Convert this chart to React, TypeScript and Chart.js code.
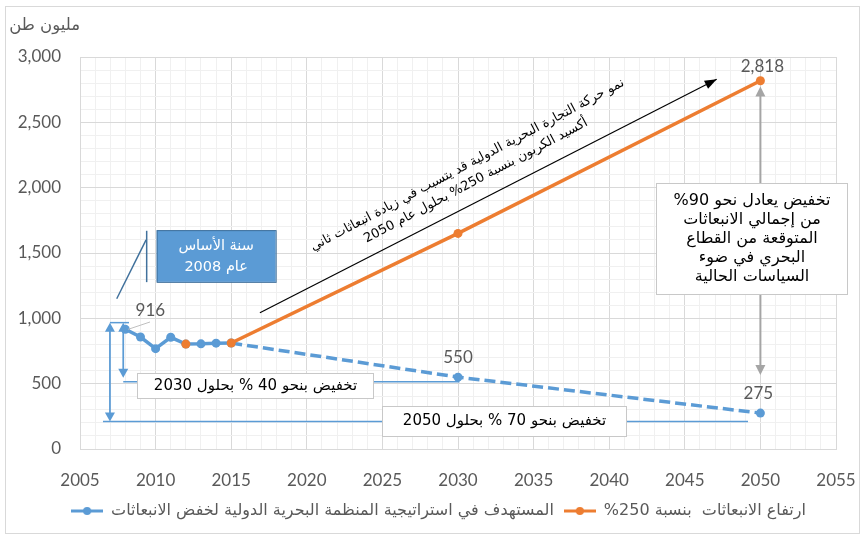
import React, { useEffect, useRef } from "react";
import { Chart, registerables } from "chart.js";

Chart.register(...registerables);

// ---- data ----
const imoYears = [2008, 2009, 2010, 2011, 2012, 2013, 2014, 2015, 2030, 2050];
const imoTarget = [916, 857, 768, 855, 803, 805, 810, 811, 550, 275];
const growthYears = [2012, 2015, 2030, 2050];
const growth250 = [803, 811, 1650, 2818];
const labelledImoYears = [2008, 2030, 2050];
const labelledGrowthYears = [2050];

const imoName = "المستهدف في استراتيجية المنظمة البحرية الدولية لخفض الانبعاثات";
const growthName = "ارتفاع الانبعاثات  بنسبة 250%";
const yTitle = "مليون طن";
const baseYearLines = ["سنة الأساس", "عام 2008"];
const cut2030 = "تخفيض بنحو 40 % بحلول 2030";
const cut2050 = "تخفيض بنحو 70 % بحلول 2050";
const cut90Lines = [
  "تخفيض يعادل نحو 90%",
  "من إجمالي الانبعاثات",
  "المتوقعة من القطاع",
  "البحري في ضوء",
  "السياسات الحالية",
];
const trendLines = [
  "نمو حركة التجارة البحرية الدولية قد يتسبب في زيادة انبعاثات ثاني",
  "أكسيد الكربون بنسبة 250% بحلول عام 2050",
];

// ---- styling ----
const BLUE = "#5b9bd5";
const ORANGE = "#ed7d31";
const DARK_BLUE = "#41719c";
const GREY_TEXT = "#595959";
const NUM_FONT = "Lato, 'DejaVu Sans', sans-serif";
const AR_FONT = "'DejaVu Sans', sans-serif";

// annotation geometry, in axis units (year, million tonnes)
const NOTES = {
  baseBox: { x0: 2010.07, x1: 2017.94, y0: 1675, y1: 1279 },
  baseBar: { x: 2009.41, y0: 1670, y1: 1277 },
  baseDiag: { x0: 2009.37, y0: 1601, x1: 2007.43, y1: 1150 },
  leader: { x0: 2009.63, y0: 972, x1: 2008.19, y1: 916 },
  outerArrow: { x: 2006.98, top: 967, bottom: 211, capX1: 2008.24, lineX0: 2006.52, lineX1: 2049.18 },
  innerArrow: { x: 2007.86, top: 967, bottom: 545, line: 514, lineX1: 2030.1 },
  box2030: { x0: 2008.74, x1: 2024.35, y0: 579, y1: 388 },
  box2050: { x0: 2024.95, x1: 2041.09, y0: 330, y1: 104 },
  box90: { x0: 2043.07, x1: 2055.7, y0: 2033, y1: 1180 },
  greyArrow: { x: 2050, top: 2774, bottom: 566 },
  trendArrow: { x0: 2016.9, y0: 1043, x1: 2047.11, y1: 2830 },
  trendText: { x: 2030.9, y: 2113, angle: -28 },
};

function head(ctx: CanvasRenderingContext2D, x1: number, y1: number, x2: number, y2: number, len: number, half: number, color: string) {
  const a = Math.atan2(y2 - y1, x2 - x1);
  const c = Math.cos(a), s = Math.sin(a);
  ctx.beginPath();
  ctx.moveTo(x2, y2);
  ctx.lineTo(x2 - len * c + half * s, y2 - len * s - half * c);
  ctx.lineTo(x2 - len * c - half * s, y2 - len * s + half * c);
  ctx.closePath();
  ctx.fillStyle = color;
  ctx.fill();
}

function line(ctx: CanvasRenderingContext2D, x0: number, y0: number, x1: number, y1: number, color: string, w: number) {
  ctx.beginPath();
  ctx.moveTo(x0, y0);
  ctx.lineTo(x1, y1);
  ctx.strokeStyle = color;
  ctx.lineWidth = w;
  ctx.stroke();
}

function label(ctx: CanvasRenderingContext2D, s: string, x: number, y: number, font: string, color: string, align: CanvasTextAlign = "center", dir: CanvasDirection = "rtl") {
  ctx.save();
  ctx.direction = dir;
  ctx.font = font;
  ctx.fillStyle = color;
  ctx.textAlign = align;
  ctx.textBaseline = "middle";
  ctx.fillText(s, x, y);
  ctx.restore();
}

function markerImage(color: string) {
  const c = document.createElement("canvas");
  c.width = 32;
  c.height = 10;
  const g = c.getContext("2d")!;
  g.strokeStyle = color;
  g.lineWidth = 3;
  g.beginPath();
  g.moveTo(0, 5);
  g.lineTo(32, 5);
  g.stroke();
  g.fillStyle = color;
  g.beginPath();
  g.arc(16, 5, 4, 0, Math.PI * 2);
  g.fill();
  return c;
}

const notesPlugin = {
  id: "notes",
  afterDraw(chart: any) {
    const ctx: CanvasRenderingContext2D = chart.ctx;
    const X = (v: number) => chart.scales.x.getPixelForValue(v);
    const Y = (v: number) => chart.scales.y.getPixelForValue(v);
    ctx.save();

    // outer frame
    ctx.strokeStyle = "#d9d9d9";
    ctx.lineWidth = 1;
    ctx.strokeRect(5.5, 6.5, 854, 527);

    // axis title
    label(ctx, yTitle, chart.chartArea.left, 26, `16.5px ${AR_FONT}`, GREY_TEXT, "right");

    // trend arrow + rotated caption
    const ta = NOTES.trendArrow;
    line(ctx, X(ta.x0), Y(ta.y0), X(ta.x1), Y(ta.y1), "#000", 1.2);
    head(ctx, X(ta.x0), Y(ta.y0), X(ta.x1), Y(ta.y1), 12, 4.5, "#000");
    const tt = NOTES.trendText;
    ctx.save();
    ctx.translate(X(tt.x), Y(tt.y));
    ctx.rotate((tt.angle * Math.PI) / 180);
    label(ctx, trendLines[0], 0, -9, `13px ${AR_FONT}`, "#000");
    label(ctx, trendLines[1], 0, 9, `13px ${AR_FONT}`, "#000");
    ctx.restore();

    // base-year callout
    const bd = NOTES.baseDiag;
    line(ctx, X(bd.x0), Y(bd.y0), X(bd.x1), Y(bd.y1), DARK_BLUE, 1.5);
    const bb = NOTES.baseBar;
    line(ctx, X(bb.x), Y(bb.y0), X(bb.x), Y(bb.y1), DARK_BLUE, 1.5);
    const bx = NOTES.baseBox;
    ctx.fillStyle = BLUE;
    ctx.fillRect(X(bx.x0), Y(bx.y0), X(bx.x1) - X(bx.x0), Y(bx.y1) - Y(bx.y0));
    ctx.strokeStyle = DARK_BLUE;
    ctx.lineWidth = 1;
    ctx.strokeRect(X(bx.x0) + 0.5, Y(bx.y0) + 0.5, X(bx.x1) - X(bx.x0), Y(bx.y1) - Y(bx.y0));
    const bcx = (X(bx.x0) + X(bx.x1)) / 2;
    const bcy = (Y(bx.y0) + Y(bx.y1)) / 2;
    label(ctx, baseYearLines[0], bcx, bcy - 10, `14.5px ${AR_FONT}`, "#fff");
    label(ctx, baseYearLines[1], bcx, bcy + 11, `14.5px ${AR_FONT}`, "#fff");

    // leader to the 2008 value
    const ld = NOTES.leader;
    line(ctx, X(ld.x0), Y(ld.y0), X(ld.x1), Y(ld.y1), "#bfbfbf", 1);

    // reduction arrows
    const oa = NOTES.outerArrow;
    line(ctx, X(oa.x), Y(oa.top), X(oa.capX1), Y(oa.top), BLUE, 1.5);
    line(ctx, X(oa.lineX0), Y(oa.bottom), X(oa.lineX1), Y(oa.bottom), BLUE, 1.5);
    line(ctx, X(oa.x), Y(oa.top) + 8, X(oa.x), Y(oa.bottom) - 8, BLUE, 1.75);
    head(ctx, X(oa.x), Y(oa.bottom), X(oa.x), Y(oa.top), 9, 5, BLUE);
    head(ctx, X(oa.x), Y(oa.top), X(oa.x), Y(oa.bottom), 9, 5, BLUE);
    const ia = NOTES.innerArrow;
    line(ctx, X(ia.x), Y(ia.line), X(ia.lineX1), Y(ia.line), BLUE, 1.5);
    line(ctx, X(ia.x), Y(ia.top) + 8, X(ia.x), Y(ia.bottom) - 8, BLUE, 1.75);
    head(ctx, X(ia.x), Y(ia.bottom), X(ia.x), Y(ia.top), 9, 5, BLUE);
    head(ctx, X(ia.x), Y(ia.top), X(ia.x), Y(ia.bottom), 9, 5, BLUE);

    // grey double arrow behind the 90% note
    const ga = NOTES.greyArrow;
    line(ctx, X(ga.x), Y(ga.top) + 9, X(ga.x), Y(ga.bottom) - 9, "#a5a5a5", 2);
    head(ctx, X(ga.x), Y(ga.bottom), X(ga.x), Y(ga.top), 10, 5, "#a5a5a5");
    head(ctx, X(ga.x), Y(ga.top), X(ga.x), Y(ga.bottom), 10, 5, "#a5a5a5");

    // white note boxes
    const box = (b: { x0: number; x1: number; y0: number; y1: number }) => {
      const x0 = Math.round(X(b.x0)) + 0.5, y0 = Math.round(Y(b.y0)) + 0.5;
      const w = Math.round(X(b.x1) - X(b.x0)), h = Math.round(Y(b.y1) - Y(b.y0));
      ctx.fillStyle = "#fff";
      ctx.fillRect(x0, y0, w, h);
      ctx.strokeStyle = "#c8c8c8";
      ctx.lineWidth = 1;
      ctx.strokeRect(x0, y0, w, h);
      return { cx: x0 + w / 2, cy: y0 + h / 2 };
    };
    const c30 = box(NOTES.box2030);
    label(ctx, cut2030, c30.cx, c30.cy, `15px ${AR_FONT}`, "#000");
    const c50 = box(NOTES.box2050);
    label(ctx, cut2050, c50.cx, c50.cy, `15px ${AR_FONT}`, "#000");
    const c90 = box(NOTES.box90);
    cut90Lines.forEach((s, i) => {
      label(ctx, s, c90.cx, c90.cy + (i - 2) * 19, `16px ${AR_FONT}`, "#000");
    });

    // value labels
    const imoMeta = chart.getDatasetMeta(0);
    const grMeta = chart.getDatasetMeta(1);
    const offsets: Record<number, [number, number]> = { 2008: [25, -19], 2030: [0, -20], 2050: [-2, -20] };
    labelledImoYears.forEach((yr) => {
      const i = imoYears.indexOf(yr);
      const p = imoMeta.data[i];
      const [dx, dy] = offsets[yr];
      label(ctx, imoTarget[i].toLocaleString("en-US"), p.x + dx, p.y + dy, `17px ${NUM_FONT}`, GREY_TEXT, "center", "ltr");
    });
    labelledGrowthYears.forEach((yr) => {
      const i = growthYears.indexOf(yr);
      const p = grMeta.data[i];
      label(ctx, growth250[i].toLocaleString("en-US"), p.x + 2, p.y - 14, `17px ${NUM_FONT}`, GREY_TEXT, "center", "ltr");
    });

    ctx.restore();
  },
};

export default function App() {
  const ref = useRef<HTMLCanvasElement>(null);

  useEffect(() => {
    const markers = [markerImage(BLUE), markerImage(ORANGE)];
    const chart = new Chart(ref.current!, {
      type: "line",
      data: {
        datasets: [
          {
            label: imoName,
            data: imoYears.map((x, i) => ({ x, y: imoTarget[i] })),
            borderColor: BLUE,
            backgroundColor: BLUE,
            borderWidth: 3.5,
            pointRadius: 4.5,
            pointBorderWidth: 0,
            pointBackgroundColor: BLUE,
            order: 1,
            segment: {
              borderDash: (c: any) => (c.p0.parsed.x >= 2015 ? [11, 5] : undefined),
            },
          },
          {
            label: growthName,
            data: growthYears.map((x, i) => ({ x, y: growth250[i] })),
            borderColor: ORANGE,
            backgroundColor: ORANGE,
            borderWidth: 3.5,
            pointRadius: 4.5,
            pointBorderWidth: 0,
            pointBackgroundColor: ORANGE,
            order: 0,
            segment: {
              borderColor: (c: any) => (c.p0.parsed.x < 2015 ? "rgba(0,0,0,0)" : ORANGE),
            },
          },
        ],
      },
      options: {
        animation: false,
        responsive: false,
        layout: { padding: { top: 57, right: 0, left: 16, bottom: 6 } },
        plugins: {
          tooltip: { enabled: false },
          legend: {
            position: "bottom",
            textDirection: "rtl",
            labels: {
              usePointStyle: true,
              pointStyleWidth: 32,
              padding: 10,
              color: GREY_TEXT,
              font: { family: AR_FONT, size: 16 },
              generateLabels: () =>
                [imoName, growthName].map((text, i) => ({
                  text,
                  pointStyle: markers[i],
                  fillStyle: i ? ORANGE : BLUE,
                  strokeStyle: i ? ORANGE : BLUE,
                  lineWidth: 0,
                  hidden: false,
                  datasetIndex: i,
                  fontColor: GREY_TEXT,
                })),
            },
          },
        },
        scales: {
          x: {
            type: "linear",
            min: 2005,
            max: 2055,
            afterFit: (s: any) => {
              s.height = 44;
              s.paddingLeft = 0;
              s.paddingRight = 25;
            },
            ticks: {
              stepSize: 1,
              autoSkip: false,
              maxTicksLimit: 100,
              maxRotation: 0,
              padding: 21,
              color: GREY_TEXT,
              font: { family: NUM_FONT, size: 17 },
              callback: (v: any) => (Number(v) % 5 === 0 ? String(v) : ""),
            },
            grid: {
              drawTicks: false,
              color: (c: any) => (c.tick && c.tick.value % 5 === 0 ? "#d9d9d9" : "#f0f0f0"),
            },
            border: { color: "#d9d9d9" },
          },
          y: {
            min: 0,
            max: 3000,
            afterFit: (s: any) => {
              s.width = 64;
            },
            ticks: {
              stepSize: 100,
              autoSkip: false,
              maxTicksLimit: 100,
              padding: 19,
              color: GREY_TEXT,
              font: { family: NUM_FONT, size: 17 },
              callback: (v: any) => (Number(v) % 500 === 0 ? Number(v).toLocaleString("en-US") : ""),
            },
            grid: {
              drawTicks: false,
              color: (c: any) => (c.tick && c.tick.value % 500 === 0 ? "#d9d9d9" : "#f0f0f0"),
            },
            border: { color: "#d9d9d9" },
          },
        },
      },
      plugins: [notesPlugin],
    } as any);
    return () => chart.destroy();
  }, []);

  return (
    <div style={{ position: "fixed", left: 0, top: 0, width: 861, height: 535, background: "#fff" }}>
      <canvas ref={ref} width={861} height={535} style={{ display: "block" }} />
    </div>
  );
}
